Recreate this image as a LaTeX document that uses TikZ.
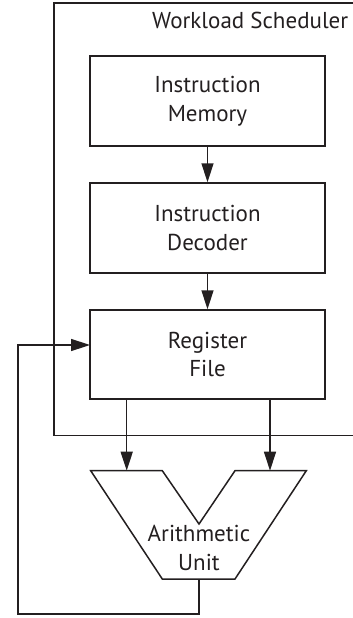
\documentclass[tikz,border=0pt]{standalone}
\usepackage{fontspec}
\setmainfont{PT Sans}
\usetikzlibrary{arrows.meta,calc}
\definecolor{ink}{HTML}{231F20}
\begin{document}
\begin{tikzpicture}[x=1pt,y=-1pt,
  line width=1.5pt, draw=ink, text=ink,
  blk/.style={draw=ink, minimum width=235pt, align=center, inner sep=0pt,
    font=\fontsize{23}{28.5}\selectfont},
  lbl/.style={align=center, inner sep=0pt, font=\fontsize{23}{28.5}\selectfont},
  arr/.style={-{Triangle[length=19pt,width=12pt]}, draw=ink, line width=1.5pt}]
\useasboundingbox (0,0) rectangle (353,618);
% workload scheduler (open on the right)
\draw[ink] (353,3) -- (54,3) -- (54,435.7) -- (353,435.7);
\node[lbl, anchor=base east] (ws) at (349,28.3) {Workload Scheduler};
% blocks
\node[blk, minimum height=90pt] (mem) at (207.5,101) {Instruction\\Memory};
\node[blk, minimum height=90pt] (dec) at (207.5,228) {Instruction\\Decoder};
\node[blk, minimum height=89pt] (reg) at (207.5,354.5) {Register\\File};
% arithmetic unit
\coordinate (a1) at (126.7,470.7);
\coordinate (a2) at (270,470.7);
\coordinate (aluout) at (199,579);
\draw[ink, line join=miter] (90.7,470.7) -- (162.3,470.7) -- (199,524) -- (235,470.7)
  -- (306.3,470.7) -- (235,579) -- (162.3,579) -- cycle;
\node[lbl] (alu) at (199,548) {Arithmetic\\Unit};
% connectors
\draw[arr] (mem) -- (dec);
\draw[arr] (dec) -- (reg);
\draw[arr] (reg.south -| a1) -- (a1);
\draw[arr] (reg.south -| a2) -- (a2);
\coordinate (fb) at (18,614);
\coordinate (regin) at (90,345);
\draw[arr] (aluout) |- (fb) |- (regin);
\end{tikzpicture}
\end{document}
